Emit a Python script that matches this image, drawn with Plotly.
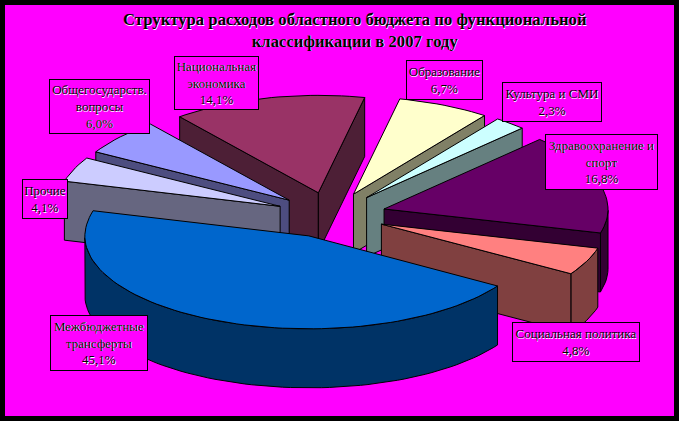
import math
import plotly.graph_objects as go

# ---- data (clockwise, beginning with the largest slice)
categories = ["Межбюджетные<br>трансферты", "Прочие", "Общегосударств.<br>вопросы",
              "Национальная<br>экономика", "Образование", "Культура и СМИ",
              "Здравоохранение и<br>спорт", "Социальная политика"]
shares = [45.1, 4.1, 6.0, 14.1, 6.7, 2.3, 16.8, 4.8]
top_colors = ["#0066CC", "#CCCCFF", "#9999FF", "#993366", "#FFFFCC", "#CCFFFF", "#660066", "#FF8080"]
side_colors = ["#003366", "#666680", "#4D4D80", "#4D1F36", "#808066", "#668080", "#330033", "#804040"]
label_boxes = [(50, 148, 315, 371), (22, 68, 179, 219), (49, 150, 79, 134), (174, 259, 56, 110),
               (406, 483, 60, 100), (502, 602, 82, 122), (545, 658, 134, 190), (512, 640, 322, 362)]
title = "Структура расходов областного бюджета по функциональной<br>классификации в 2007 году"

# ---- projection of the tilted pie, in window pixels
CX, CY, R, TILT, TILT_BACK, NARROW_BACK, DEPTH, EXPLODE, START = 331, 215, 224, 0.415, 0.435, 0.012, 59, 55, 122.6
HALO = "0.6px 0.6px 0 #ffffff"


def project(angle, radius, apex):
    a = math.radians(angle)
    c = math.cos(a)
    if c > 0:  # far half of the pie: slightly more vertical reach, slightly narrower
        return apex[0] + radius * math.sin(a) * (1 - NARROW_BACK * c), apex[1] - radius * c * TILT_BACK
    return apex[0] + radius * math.sin(a), apex[1] - radius * c * TILT


fig = go.Figure()


def poly(pts, color):
    xs = [p[0] for p in pts] + [pts[0][0]]
    ys = [p[1] for p in pts] + [pts[0][1]]
    fig.add_trace(go.Scatter(x=xs, y=ys, mode="lines", fill="toself", fillcolor=color,
                             line=dict(color="black", width=1), hoverinfo="skip", showlegend=False))


slices = []
angle = START
for share, top, side in zip(shares, top_colors, side_colors):
    sweep = share * 3.6
    mid = angle + sweep / 2
    a = math.radians(mid)
    apex = (CX + EXPLODE * math.sin(a), CY - EXPLODE * math.cos(a) * TILT)
    slices.append((apex, angle, angle + sweep, top, side))
    angle += sweep

for apex, a, b, top, side in sorted(slices, key=lambda s: s[0][1]):
    n = max(2, int((b - a) / 2))
    angles = [a + (b - a) * i / n for i in range(n + 1)]
    # visible outer rim: the part of the arc that faces the viewer
    rim_angles = [t for t in angles if math.cos(math.radians(t)) < 0]
    if len(rim_angles) >= 2:
        upper = [project(t, R, apex) for t in rim_angles]
        lower = [(x, y + DEPTH) for x, y in upper]
        poly(upper + lower[::-1], side)
    # radial walls that face the viewer
    for edge, visible in ((a, math.sin(math.radians(a)) < 0), (b, math.sin(math.radians(b)) > 0)):
        if visible:
            p = project(edge, R, apex)
            poly([apex, p, (p[0], p[1] + DEPTH), (apex[0], apex[1] + DEPTH)], side)
    poly([apex] + [project(t, R, apex) for t in angles], top)

annotations = []
for cat, share, box in zip(categories, shares, label_boxes):
    x0, x1, y0, y1 = box
    text = f"{cat}<br>{str(share).replace('.', ',')}%"
    annotations.append(dict(x=(x0 + x1) / 2, y=(y0 + y1) / 2, xref="x", yref="y", text=text,
                            showarrow=False, width=x1 - x0 - 2, height=y1 - y0 - 2,
                            bgcolor="#FF00FF", bordercolor="black", borderwidth=1, borderpad=0,
                            align="center", valign="middle",
                            font=dict(family="Liberation Serif", size=13, color="black", shadow=HALO)))
annotations.append(dict(x=355, y=30, xref="x", yref="y",
                        text="<b>" + title.replace("<br>", "</b><br><b>") + "</b>",
                        showarrow=False, align="center",
                        font=dict(family="Liberation Serif", size=16.7, color="black", shadow=HALO)))

fig.update_layout(width=679, height=421, autosize=False,
                  margin=dict(l=5, r=5, t=5, b=5),
                  paper_bgcolor="black", plot_bgcolor="#FF00FF",
                  xaxis=dict(range=[5, 674], visible=False, fixedrange=True),
                  yaxis=dict(range=[416, 5], visible=False, fixedrange=True),
                  annotations=annotations, showlegend=False)
fig.write_html("out.html", config={"displayModeBar": False},
               post_script="document.body.style.margin='0';document.body.style.background='black';document.body.style.overflow='hidden';")
